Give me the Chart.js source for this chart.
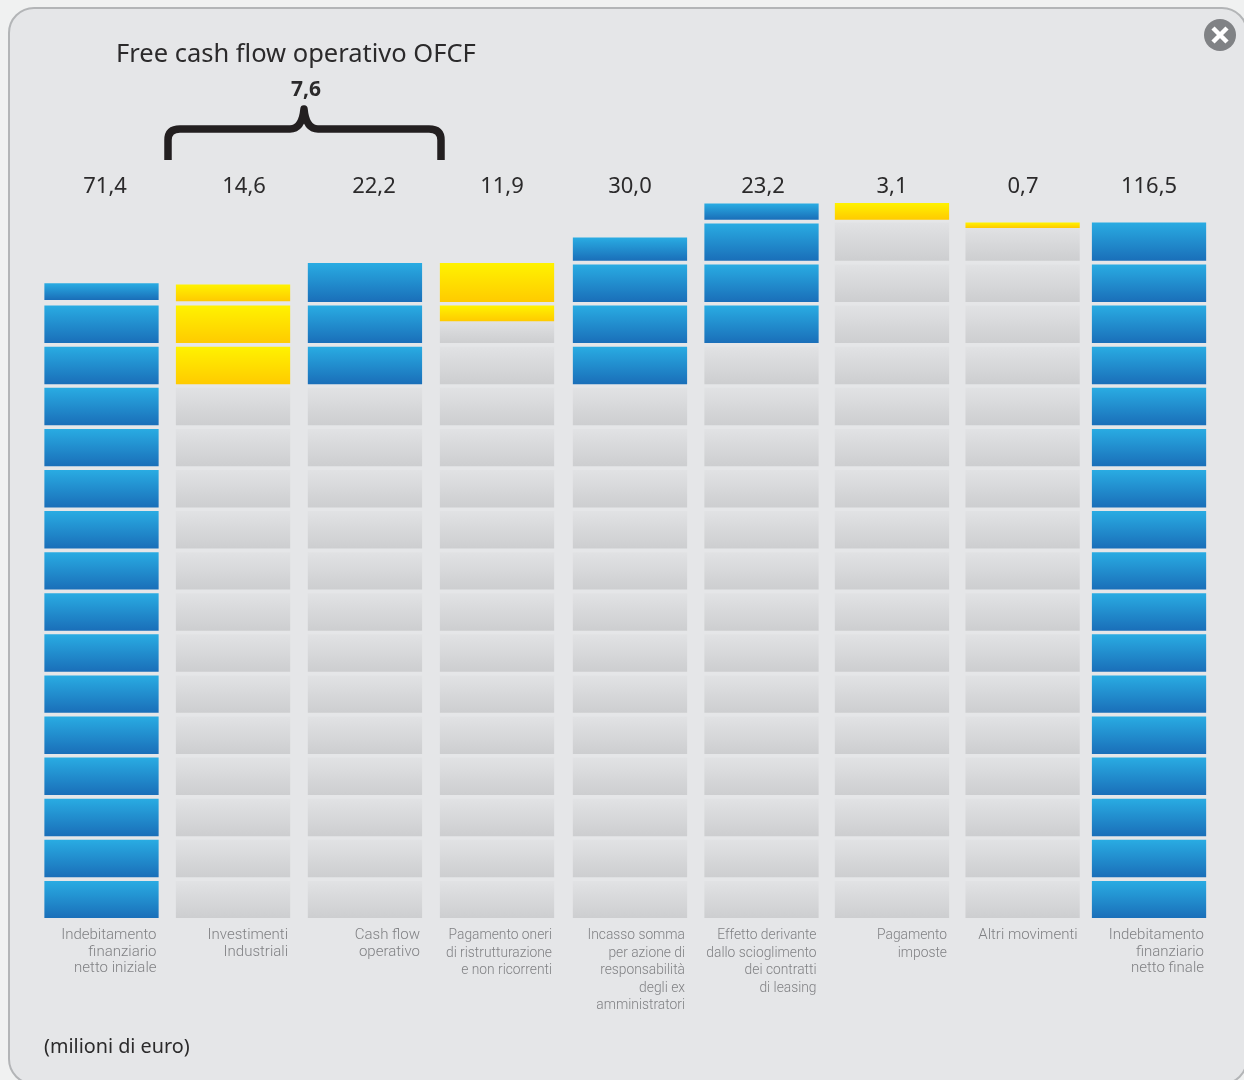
<!DOCTYPE html>
<html lang="it">
<head>
<meta charset="utf-8">
<title>Free cash flow operativo OFCF</title>
<script src="https://cdn.jsdelivr.net/npm/chart.js@4/dist/chart.umd.min.js"></script>
<style>
html,body{margin:0;padding:0;width:1244px;height:1080px;overflow:hidden;background:#f0f1f1}
#panel{position:absolute;left:8px;top:7px;width:1240px;height:1078px;box-sizing:border-box;background:#e5e6e8;border:2px solid #b3b5b7;border-radius:26px}
canvas{position:absolute;left:0;top:0}
</style>
</head>
<body>
<div id="panel"></div>
<canvas id="c" width="1244" height="1080"></canvas>
<script>
// ---- data -------------------------------------------------------------
const categoryLabels = [
  ["Indebitamento","finanziario","netto iniziale"],
  ["Investimenti","Industriali"],
  ["Cash flow","operativo"],
  ["Pagamento oneri","di ristrutturazione","e non ricorrenti"],
  ["Incasso somma","per azione di","responsabilità","degli ex","amministratori"],
  ["Effetto derivante","dallo scioglimento","dei contratti","di leasing"],
  ["Pagamento","imposte"],
  ["Altri movimenti"],
  ["Indebitamento","finanziario","netto finale"]
];
const reportedValues = [71.4,14.6,22.2,11.9,30.0,23.2,3.1,0.7,116.5];
// drawn heights, in stacked cells
const greyTop     = [0, 13, 13, 14.53, 13, 14, 16.92, 16.8, 0];
const colourFrom  = [0, 13, 13, 14.53, 13, 14, 17, 16.8, 0];
const colourTop   = [15.44, 15.41, 15.93, 15.93, 16.55, 17.38, 17.4, 16.92, 16.92];
const capFloor    = [15.05, 15.02, null, null, null, null, null, null, null];
const colourKind  = ["blue","yellow","blue","yellow","blue","blue","yellow","yellow","blue"];
const subtotalValue = 7.6;
// ---- helpers ----------------------------------------------------------
const columnSlots = [0,1.004,2.011,3.019,4.034,5.038,6.034,7.031,7.996];
const valueSlots  = [0.027,1.088,2.080,3.057,4.034,5.050,6.034,7.034,7.996];
const CELL_COUNT = 18, CELL_FILL = 0.895;
const comma = v => v.toFixed(1).replace('.',',');
const ramps = {
  grey:["#e1e2e4","#cdced0"],
  blue:["#29abe2","#1a6fb9"],
  yellow:["#fff200","#ffcb00"]
};
function cellRange(k, lo, hi, floor){
  let a = Math.max(k, lo);
  const b = k === Math.floor(hi) ? hi : Math.min(k + CELL_FILL, hi);
  if (floor !== null && floor !== undefined && k === Math.floor(floor)) a = Math.max(a, floor);
  return b > a ? [a, b] : null;
}
function rampFill(kindOf){
  return c => {
    const chart = c.chart, y = chart.scales.y;
    const r = ramps[kindOf(c.dataIndex)];
    if (!y || !c.raw || !c.raw.y) return r[1];
    const top = y.getPixelForValue(c.raw.y[1]), bottom = y.getPixelForValue(c.raw.y[0]);
    if (!isFinite(top) || !isFinite(bottom)) return r[1];
    const g = chart.ctx.createLinearGradient(0, top, 0, bottom);
    g.addColorStop(0, r[0]); g.addColorStop(1, r[1]);
    return g;
  };
}
const datasets = [];
for (let k = 0; k < CELL_COUNT; k++) {
  datasets.push({
    label:"grey "+k,
    data: columnSlots.map((x,i)=>({x, y:cellRange(k,0,greyTop[i],null)})),
    backgroundColor: rampFill(()=> "grey"), order:2
  });
  datasets.push({
    label:"fill "+k,
    data: columnSlots.map((x,i)=>({x, y:cellRange(k,colourFrom[i],colourTop[i],capFloor[i])})),
    backgroundColor: rampFill(i=>colourKind[i]), order:1
  });
}
const decorations = {
  id:"decorations",
  afterDraw(chart){
    const ctx = chart.ctx;
    ctx.save();
    ctx.textBaseline="middle"; ctx.textAlign="left"; ctx.fillStyle="#2b2a2b";
    ctx.font='400 25.5px "Noto Sans"';
    ctx.fillText("Free cash flow operativo OFCF",116,55);
    ctx.textAlign="center"; ctx.font='700 21px "Noto Sans"';
    ctx.fillText(comma(subtotalValue),306,90);
    ctx.textAlign="left"; ctx.font='400 19.8px "Noto Sans"';
    ctx.fillText("(milioni di euro)",44,1047);
    // brace
    ctx.strokeStyle="#231f20"; ctx.lineWidth=7.5; ctx.lineJoin="round";
    ctx.beginPath();
    ctx.moveTo(168,160); ctx.lineTo(168,140);
    ctx.quadraticCurveTo(168,129,180,129);
    ctx.lineTo(290,129);
    ctx.quadraticCurveTo(302,129,304,109);
    ctx.quadraticCurveTo(306,129,318,129);
    ctx.lineTo(429,129);
    ctx.quadraticCurveTo(441,129,441,140);
    ctx.lineTo(441,160);
    ctx.stroke();
    // close button
    ctx.fillStyle="#808285";
    ctx.beginPath(); ctx.arc(1220,35,16,0,Math.PI*2); ctx.fill();
    ctx.strokeStyle="#fff"; ctx.lineWidth=4.5; ctx.lineCap="butt";
    ctx.beginPath();
    ctx.moveTo(1213,28); ctx.lineTo(1227,42);
    ctx.moveTo(1227,28); ctx.lineTo(1213,42);
    ctx.stroke();
    ctx.restore();
  }
};
const xMin=-0.5, xMax=8.492;
function noSidePadding(s){s.paddingLeft=0;s.paddingRight=0;}
new Chart(document.getElementById("c"),{
  type:"bar",
  data:{datasets},
  plugins:[decorations],
  options:{
    responsive:false, animation:false,
    layout:{padding:{left:36,right:30,top:0,bottom:0}},
    datasets:{bar:{grouped:false,barThickness:113.6,borderWidth:0}},
    plugins:{legend:{display:false},tooltip:{enabled:false},title:{display:false}},
    scales:{
      y:{min:0,max:17.4,display:false},
      x:{
        type:"linear",position:"bottom",min:xMin,max:xMax,offset:false,
        grid:{display:false,drawTicks:false,offset:false},border:{display:false},
        afterBuildTicks(s){s.ticks=columnSlots.map(value=>({value}));},
        afterFit(s){s.height=162;noSidePadding(s);},
        ticks:{
          autoSkip:false,maxRotation:0,minRotation:0,align:"end",crossAlign:"near",
          padding:9,labelOffset:55,color:"#808184",
          font:c=>{
            const tight=c.index>=3&&c.index<=6;
            return tight
              ? {family:"Roboto",weight:"300",size:13.8,lineHeight:17.5/13.8}
              : {family:"Roboto",weight:"300",size:15,lineHeight:16.5/15};
          },
          callback:(v,i)=>categoryLabels[i]
        }
      },
      xTop:{
        type:"linear",axis:"x",position:"top",min:xMin,max:xMax,offset:false,
        grid:{display:false,drawTicks:false},border:{display:false},
        afterBuildTicks(s){s.ticks=valueSlots.map(value=>({value}));},
        afterFit(s){s.height=203;noSidePadding(s);},
        ticks:{
          autoSkip:false,maxRotation:0,minRotation:0,padding:3,color:"#2b2a2b",
          font:{family:"Noto Sans",size:22,weight:"400"},
          callback:(v,i)=>comma(reportedValues[i])
        }
      }
    }
  }
});
</script>
</body>
</html>
